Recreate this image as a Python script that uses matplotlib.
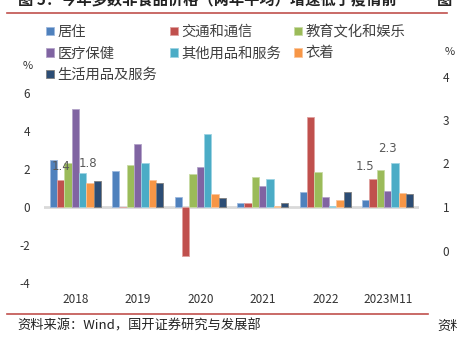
import numpy as np
import matplotlib.pyplot as plt
from matplotlib.patches import Patch
from matplotlib.lines import Line2D

plt.rcParams['font.family'] = ['Noto Sans CJK SC', 'DejaVu Sans']
plt.rcParams['axes.unicode_minus'] = False

years = ['2018', '2019', '2020', '2021', '2022', '2023M11']
series = ['居住', '交通和通信', '教育文化和娱乐', '医疗保健', '其他用品和服务', '衣着', '生活用品及服务']

housing = [2.50, 1.89, 0.53, 0.19, 0.77, 0.37]
transport = [1.40, 0.00, -2.58, 0.23, 4.75, 1.50]
education = [2.33, 2.20, 1.75, 1.60, 1.86, 1.96]
medical = [5.14, 3.34, 2.11, 1.10, 0.53, 0.86]
other = [1.80, 2.30, 3.85, 1.47, 0.05, 2.30]
clothing = [1.26, 1.40, 0.71, 0.05, 0.37, 0.72]
daily = [1.37, 1.27, 0.49, 0.21, 0.77, 0.67]

colors = ['#4F81BD', '#C0504D', '#9BBB59', '#8064A2', '#4BACC6', '#F79646', '#2C4D75']
edges = ['#9DB9DE', '#E0A09E', '#C8DBA4', '#B3A2C8', '#9ED3E2', '#FAC59A', '#7F7F7F']

data = [housing, transport, education, medical, other, clothing, daily]

fig = plt.figure(figsize=(4.57, 3.39), dpi=100)
ax = fig.add_axes([44 / 457, 1 - 283 / 339, 375 / 457, 228 / 339])

x = np.arange(len(years))
w = 0.117
for i, (vals, c, ec) in enumerate(zip(data, colors, edges)):
    ax.bar(x + (i - 3) * w, vals, w, color=c, edgecolor=ec, linewidth=0.6,
           label=series[i], zorder=3)

ax.set_xlim(-0.5, len(years) - 0.5)
ax.set_ylim(-4, 8)
ax.set_yticks([-4, -2, 0, 2, 4, 6])
ax.set_xticks(x)
ax.set_xticklabels(years)
ax.axhline(0, color='#D9D9D9', lw=2, zorder=2)

for s in ax.spines.values():
    s.set_visible(False)
ax.tick_params(axis='both', length=0, labelsize=8.5, colors='#333333')
ax.tick_params(axis='y', pad=10)
ax.tick_params(axis='x', pad=7)

# secondary axis on the right, scale only
ax2 = ax.twinx()
r_lo = 1 - 76 / 43.5
r_hi = 1 + 152 / 43.5
ax2.set_ylim(r_lo, r_hi)
ax2.set_yticks([0, 1, 2, 3, 4])
for s in ax2.spines.values():
    s.set_visible(False)
ax2.tick_params(axis='y', length=0, labelsize=8.5, colors='#333333', pad=17)

# value labels
lab_kw = dict(fontsize=8.5, color='#595959', ha='center', va='center',
              family=['DejaVu Sans'])
ax.text(x[0] - 0.23, 2.12, f'{transport[0]:.1f}', **lab_kw)
ax.text(x[0] + 0.20, 2.31, f'{other[0]:.1f}', **lab_kw)
ax.text(x[5] - 0.36, 2.15, f'{transport[5]:.1f}', **lab_kw)
ax.text(x[5] + 0.0, 3.08, f'{other[5]:.1f}', **lab_kw)

fig.text(28 / 457, 1 - 66 / 339, '%', fontsize=8, color='#333333', ha='center', va='center')
fig.text(450 / 457, 1 - 52 / 339, '%', fontsize=8, color='#333333', ha='center', va='center')

# legend laid out in three columns
order = [0, 3, 6, 1, 4, 2, 5]
handles = [Patch(facecolor=colors[i], edgecolor=edges[i], linewidth=0.6) for i in order]
labels = [series[i] for i in order]
fig.legend(handles, labels, ncol=3, loc='upper left',
           bbox_to_anchor=(46 / 457, 1 - 25 / 339), frameon=False,
           fontsize=10.3, labelcolor='#404040', handlelength=0.55, handleheight=0.55,
           handletextpad=0.25, columnspacing=0.9, labelspacing=0.52, borderpad=0,
           borderaxespad=0)

# title, header rules and footer
fig.text(18 / 457, 1 - 0 / 339, '图 5：今年多数非食品价格（两年平均）增速低于疫情前',
         fontsize=11, fontweight='bold', color='#222222', ha='left', va='center')
fig.text(437 / 457, 1 - 0 / 339, '图', fontsize=11, fontweight='bold',
         color='#222222', ha='left', va='center')
fig.add_artist(Line2D([7 / 457, 447 / 457], [1 - 13 / 339] * 2, color='#C0504D', lw=1.2))
fig.add_artist(Line2D([7 / 457, 428 / 457], [1 - 314 / 339] * 2, color='#C0504D', lw=1.2))
fig.text(17 / 457, 1 - 326 / 339, '资料来源：Wind，国开证券研究与发展部',
         fontsize=9.5, color='#222222', ha='left', va='center')
fig.text(437 / 457, 1 - 326 / 339, '资料', fontsize=9.5, color='#222222',
         ha='left', va='center')

fig.savefig('out.png', dpi=100)
